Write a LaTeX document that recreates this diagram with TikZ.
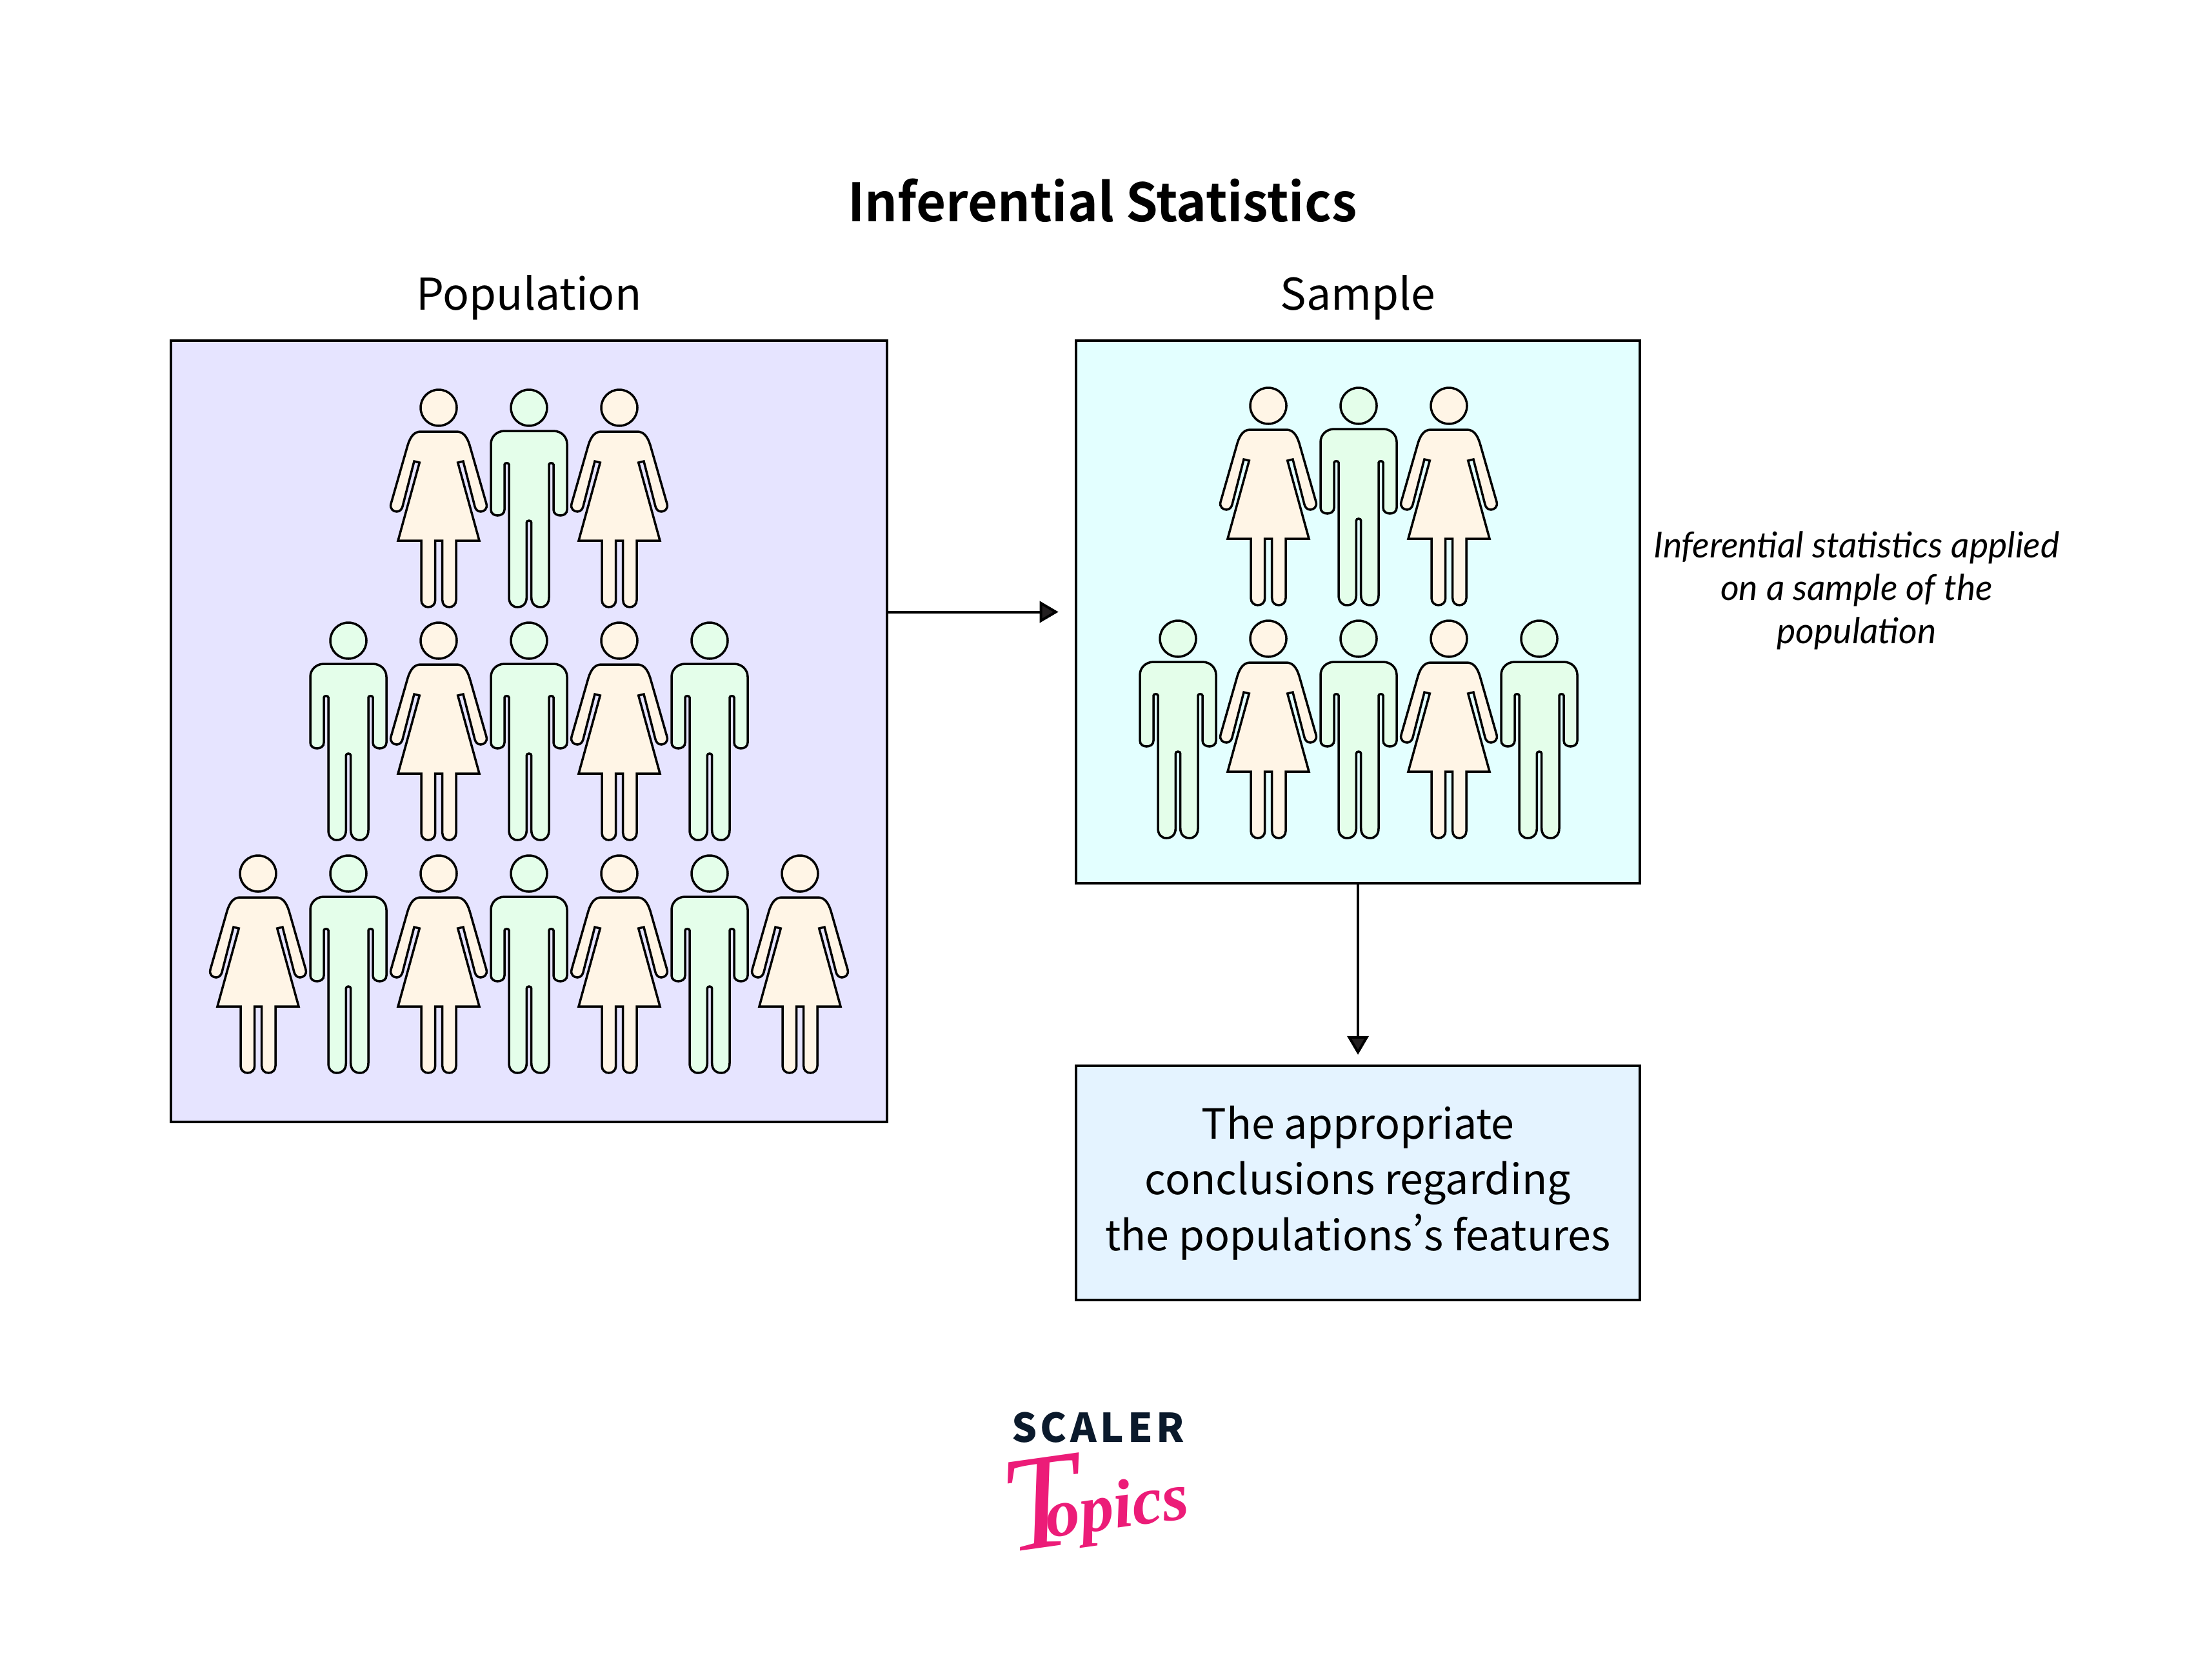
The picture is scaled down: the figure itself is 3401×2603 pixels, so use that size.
\documentclass[tikz,border=0pt]{standalone}
\usepackage{fontspec}
\usepackage{tikz}
\usetikzlibrary{arrows.meta}
\setmainfont{Noto Sans CJK SC}[RawFeature=+pwid]
\newfontfamily\titlefont{Noto Sans CJK SC Bold}[FakeStretch=0.97]
\newfontfamily\notefont{Lato}
\newfontfamily\logofont{Liberation Serif}
\definecolor{popfill}{HTML}{E6E4FF}
\definecolor{samplefill}{HTML}{E3FFFF}
\definecolor{resultfill}{HTML}{E4F3FF}
\definecolor{womanfill}{HTML}{FFF5E6}
\definecolor{manfill}{HTML}{E4FEEA}
\definecolor{arrowgray}{HTML}{231F20}
\definecolor{logonavy}{HTML}{0B1A2C}
\definecolor{logopink}{HTML}{EC1C78}

\begin{document}
\begin{tikzpicture}[
        x=0.01cm, y=-0.01cm,
        titletext/.style={font=\titlefont\fontsize{23.3pt}{28pt}\selectfont},
        headtext/.style={font=\fontsize{19.3pt}{24.6pt}\selectfont},
        bodytext/.style={font=\fontsize{18.35pt}{24.6pt}\selectfont, align=center},
        notetext/.style={font=\notefont\itshape\fontsize{15.75pt}{18.9pt}\selectfont, align=center},
        panel/.style={draw=black, line width=0.04cm, inner sep=0pt},
        link/.style={draw=black, line width=0.04cm, -{Triangle[length=0.29cm, width=0.33cm, fill=arrowgray]}},
        outline/.style={draw=black, line width=0.035cm, line join=miter},
        pics/woman/.style={code={
            \path[outline, fill=womanfill] (0,0) circle[radius=28];
            \path[outline, fill=womanfill] (-28,37) -- (28,37)
                .. controls (38,37) and (44,45) .. (48,58) -- (74,149)
                .. controls (76,157) and (70,161) .. (65,161)
                .. controls (60,161) and (57,157) .. (56,153) -- (38,83) -- (29.7,85) -- (63,206)
                -- (27,206) -- (27,298)
                .. controls (27,305) and (22,309) .. (16.3,309)
                .. controls (10,309) and (5.7,305) .. (5.7,298) -- (5.7,206) -- (-5.3,206) -- (-5.3,298)
                .. controls (-5.3,305) and (-10,309) .. (-16.3,309)
                .. controls (-22,309) and (-27,305) .. (-27,298) -- (-27,206) -- (-63,206)
                -- (-29.7,85) -- (-38,83) -- (-56,153)
                .. controls (-57,157) and (-60,161) .. (-65,161)
                .. controls (-70,161) and (-76,157) .. (-74,149) -- (-48,58)
                .. controls (-44,45) and (-38,37) .. (-28,37) -- cycle;
        }},
        pics/man/.style={code={
            \path[outline, fill=manfill] (0,0) circle[radius=28];
            \path[outline, fill=manfill] (-38,36) -- (38,36)
                .. controls (50,36) and (59,45) .. (59,56) -- (59,158)
                .. controls (59,164) and (54,167) .. (48.7,167)
                .. controls (43,167) and (38,164) .. (38,158) -- (38,88)
                .. controls (38,85) and (31,85) .. (31,88) -- (31,294)
                .. controls (31,303) and (26,309) .. (18,309)
                .. controls (9,309) and (3.7,303) .. (3.7,294) -- (3.7,178)
                .. controls (3.7,174) and (-3.7,174) .. (-3.7,178) -- (-3.7,294)
                .. controls (-3.7,303) and (-9,309) .. (-18,309)
                .. controls (-26,309) and (-31,303) .. (-31,294) -- (-31,88)
                .. controls (-31,85) and (-38,85) .. (-38,88) -- (-38,158)
                .. controls (-38,164) and (-43,167) .. (-48.7,167)
                .. controls (-54,167) and (-59,164) .. (-59,158) -- (-59,56)
                .. controls (-59,45) and (-50,36) .. (-38,36) -- cycle;
        }}
    ]

        \useasboundingbox (0,0) rectangle (3401,2603);

        \node[titletext, anchor=base] (title) at (1709,343) {Inferential Statistics};
        \node[headtext, anchor=base] (popLabel) at (820,480) {Population};
        \node[headtext, anchor=base] (sampleLabel) at (2105,480) {Sample};

        \node[panel, fill=popfill, minimum width=11.1cm, minimum height=12.11cm] (population) at (820,1133.5) {};
        \node[panel, fill=samplefill, minimum width=8.74cm, minimum height=8.41cm] (sample) at (2105,948.5) {};
        \node[panel, fill=resultfill, minimum width=8.74cm, minimum height=3.63cm, bodytext] (result) at (2105,1833.5)
            {The appropriate\\conclusions regarding\\the populations’s features};
        \node[notetext] (note) at (2878,915) {Inferential statistics applied\\on a sample of the\\population};

        \foreach \px/\py in {680/632, 960/632, 680/993, 960/993, 400/1354, 680/1354, 960/1354, 1240/1354, 1966/629, 2246/629, 1966/990, 2246/990}
            \pic at (\px,\py) {woman};
        \foreach \px/\py in {820/632, 540/993, 820/993, 1100/993, 540/1354, 820/1354, 1100/1354, 2106/629, 1826/990, 2106/990, 2386/990}
            \pic at (\px,\py) {man};

        \draw[link, shorten >=0.25cm] (population.east |- sample.west) -- (sample.west);
        \draw[link, shorten >=0.15cm] (sample.south) -- (result.north);

        \node[anchor=base, text=logonavy, font=\addfontfeature{LetterSpace=9}\fontsize{17.5pt}{22pt}\bfseries\selectfont] (scaler) at (1702,2235) {SCALER};
        \node[text=logopink, rotate=8, inner sep=0pt, font=\logofont\itshape] (topics) at (1697,2322)
            {\fontsize{60pt}{60pt}\selectfont T\kern-15pt\raisebox{4pt}{\bfseries\fontsize{30pt}{30pt}\selectfont opics}};

    \end{tikzpicture}
\end{document}
